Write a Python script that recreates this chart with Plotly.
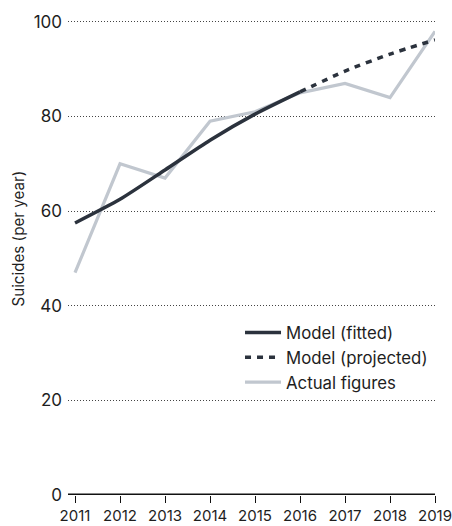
import plotly.graph_objects as go

# Yearly suicide figures and the fitted / projected model
years = [2011, 2012, 2013, 2014, 2015, 2016, 2017, 2018, 2019]
actual = [47, 70, 67, 79, 81, 85, 87, 84, 98]

fitted_years = [2011, 2012, 2013, 2014, 2015, 2016]
fitted = [57.5, 62.5, 68.7, 75.0, 80.5, 85.2]

projected_years = [2016, 2017, 2018, 2019]
projected = [85.2, 89.6, 93.2, 96.2]

y_ticks = [0, 20, 40, 60, 80, 100]

DARK = "#2b323d"
GREY = "#c1c7cf"
TEXT = "#1e1e1e"
FONT = "Inter"

fig = go.Figure()

# Actual figures first so the model lines sit on top of them
fig.add_trace(go.Scatter(
    x=years, y=actual, mode="lines", name="Actual figures",
    line=dict(color=GREY, width=3.2), legendrank=3, legendgroup="c",
))
fig.add_trace(go.Scatter(
    x=fitted_years, y=fitted, mode="lines", name="Model (fitted)",
    line=dict(color=DARK, width=3.5, shape="spline", smoothing=0.6),
    legendrank=1, legendgroup="a",
))
fig.add_trace(go.Scatter(
    x=projected_years, y=projected, mode="lines", name="Model (projected)",
    line=dict(color=DARK, width=3.5, dash="6px,6px", shape="spline", smoothing=0.6),
    legendrank=2, legendgroup="b",
))

fig.update_layout(
    width=452, height=526,
    margin=dict(l=68, r=17, t=20, b=31, autoexpand=False),
    paper_bgcolor="white", plot_bgcolor="white",
    font=dict(family=FONT, size=16, color=TEXT),
    showlegend=True,
    legend=dict(
        x=0.4687, y=0.379, xanchor="left", yanchor="top",
        bgcolor="rgba(0,0,0,0)", font=dict(size=16.8, color=TEXT),
        traceorder="grouped", tracegroupgap=0, itemwidth=36,
    ),
)

fig.update_xaxes(
    range=[2010.844, 2019], tickvals=years, ticktext=[str(y) for y in years],
    showgrid=False, zeroline=False, showline=False, automargin=False,
    ticks="outside", ticklen=7, tickwidth=1, tickcolor="#111",
    ticklabeloverflow="allow",
    tickfont=dict(size=15, color=TEXT), fixedrange=True,
)
fig.update_yaxes(
    range=[0, 100.4], tickvals=y_ticks, ticks="", automargin=False,
    showgrid=True, gridcolor="#444", griddash="1px,2px", gridwidth=1,
    zeroline=False, showline=False, ticklabelstandoff=5,
    tickfont=dict(size=17, color=TEXT),
)

# Axis title, placed a little above the middle of the plot
fig.add_annotation(
    text="Suicides (per year)", textangle=-90, showarrow=False,
    xref="paper", yref="paper", x=-0.136, y=0.54, xanchor="center", yanchor="middle",
    font=dict(family=FONT, size=15.2, color=TEXT),
)

# Baseline of the axis at zero
fig.add_shape(type="line", xref="paper", yref="y", x0=0, x1=1, y0=0, y1=0,
              line=dict(color="#111", width=3), layer="above")

fig.write_html("out.html")
